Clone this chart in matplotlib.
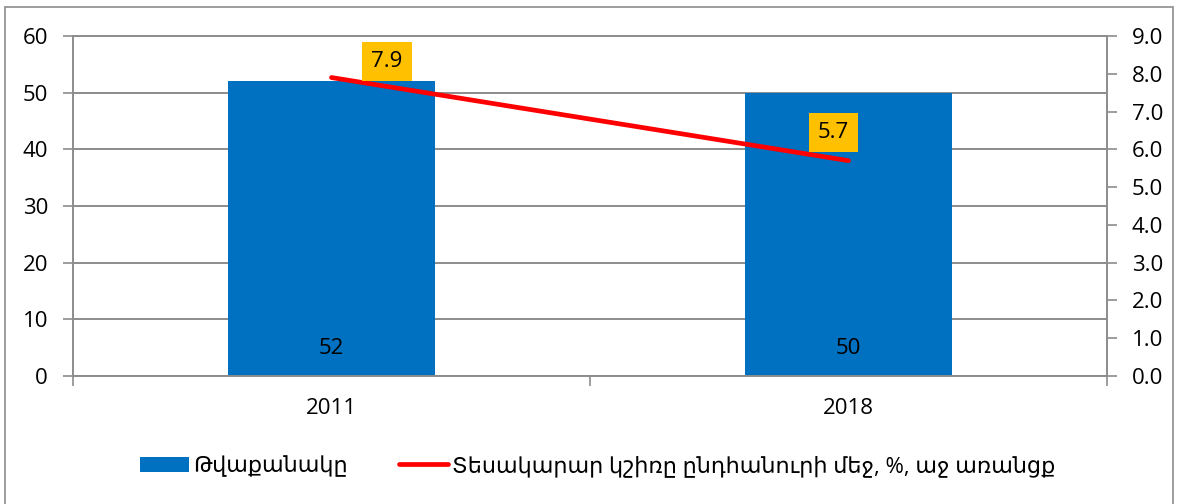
import matplotlib
matplotlib.use("Agg")
import matplotlib.pyplot as plt
from matplotlib.patches import Rectangle

# Data
years = ["2011", "2018"]
counts = [52, 50]
shares = [7.9, 5.7]
bar_name = "Թվաքանակը"
line_name = "Տեսակարար կշիռը ընդհանուրի մեջ, %, աջ առանցք"

plt.rcParams['font.family'] = ['Open Sans', 'DejaVu Sans']
plt.rcParams['font.size'] = 16

grey = "#8c8c8c"

fig = plt.figure(figsize=(11.79, 5.04), dpi=100)
fig.patches.append(Rectangle((0.004, -0.02), 0.991, 1.006, transform=fig.transFigure,
                             fill=False, edgecolor=grey, linewidth=1.2))

ax = fig.add_axes([0.0619, 0.254, 0.877, 0.6746])
x = range(len(years))
bars = ax.bar(x, counts, width=0.4, color="#0070C0", label=bar_name, zorder=2)
ax.set_xlim(-0.5, len(years) - 0.5)
ax.set_ylim(0, 60)
ax.set_yticks(range(0, 61, 10))
ax.set_axisbelow(True)
ax.yaxis.grid(True, color=grey, linewidth=1.4)
ax.set_xticks(list(x))
ax.set_xticklabels(years)
ax.set_xticks([-0.5, 0.5, 1.5], minor=True)
ax.tick_params(axis='x', which='major', length=0, pad=16)
ax.tick_params(axis='x', which='minor', length=7, color=grey, width=1.2)
ax.tick_params(axis='y', length=7, color=grey, width=1.2, pad=11)
for s in ax.spines.values():
    s.set_color(grey)
    s.set_linewidth(1.2)

for i, v in enumerate(counts):
    ax.annotate(str(v), xy=(i, 0), xytext=(0, 20), textcoords='offset points',
                ha='center', va='center')

ax2 = ax.twinx()
line, = ax2.plot(list(x), shares, color="#FF0000", linewidth=3.4,
                 solid_capstyle='round', label=line_name)
ax2.set_ylim(0, 9)
ax2.set_yticks([i * 1.0 for i in range(10)])
ax2.yaxis.set_major_formatter(matplotlib.ticker.FormatStrFormatter('%.1f'))
ax2.tick_params(axis='y', length=7, color=grey, width=1.2, pad=11)
for s in ax2.spines.values():
    s.set_color(grey)
    s.set_linewidth(1.2)

offsets = [(40, 11.5), (-11, 20)]
for i, v in enumerate(shares):
    ax2.annotate(f"{v:.1f}", xy=(i, v), xytext=offsets[i], textcoords='offset points',
                 ha='center', va='center',
                 bbox=dict(boxstyle='square,pad=0.4', facecolor="#FFC000", edgecolor='none'))

fig.legend([bars, line], [bar_name, line_name], loc='center', bbox_to_anchor=(0.507, 0.075),
           ncol=2, frameon=False, handlelength=2.2, handletextpad=0.2, columnspacing=2.3)

fig.savefig("out.png", dpi=100)
